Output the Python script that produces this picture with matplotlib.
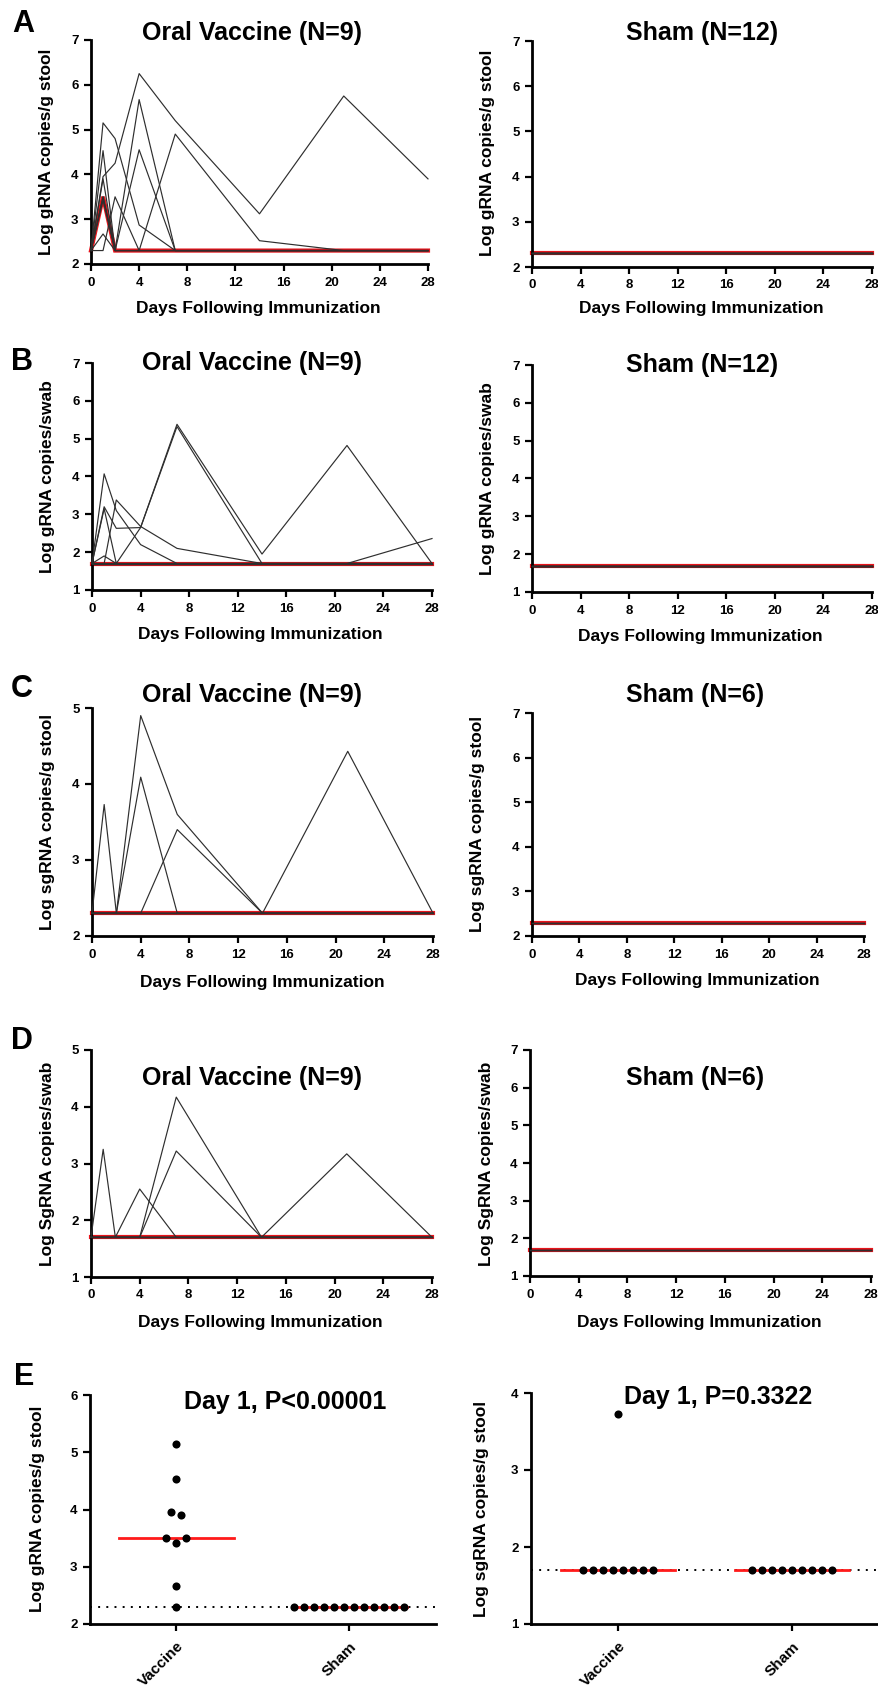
import matplotlib
matplotlib.use('Agg')
import matplotlib.pyplot as plt
import numpy as np

plt.rcParams['font.family'] = ['Liberation Sans', 'DejaVu Sans']
plt.rcParams['font.weight'] = 'bold'

W, H = 879, 1687

# ---------------- data ----------------
days = [0, 1, 2, 4, 7, 14, 21, 28]
day_ticks = [0, 4, 8, 12, 16, 20, 24, 28]

# Panel A: gRNA, stool (LOD 2.3)
A_vaccine = [
    [2.3, 5.15, 4.80, 2.87, 2.30, 2.30, 2.30, 2.30],
    [2.3, 3.95, 4.25, 6.25, 5.20, 3.12, 5.75, 3.90],
    [2.3, 4.53, 2.30, 5.67, 2.30, 2.30, 2.30, 2.30],
    [2.3, 3.90, 2.30, 4.55, 2.30, 2.30, 2.30, 2.30],
    [2.3, 3.50, 2.30, 2.30, 4.90, 2.52, 2.30, 2.30],
    [2.3, 3.50, 2.30, 2.30, 2.30, 2.30, 2.30, 2.30],
    [2.3, 3.42, 2.30, 2.30, 2.30, 2.30, 2.30, 2.30],
    [2.3, 2.67, 2.30, 2.30, 2.30, 2.30, 2.30, 2.30],
    [2.3, 2.30, 3.50, 2.30, 2.30, 2.30, 2.30, 2.30],
]
A_sham = [[2.3] * 8] * 12

# Panel B: gRNA, swab (LOD 1.7)
B_vaccine = [
    [1.7, 4.07, 3.10, 2.20, 1.70, 1.70, 1.70, 1.70],
    [1.7, 3.20, 2.63, 2.65, 5.32, 1.70, 1.70, 1.70],
    [1.7, 3.15, 1.70, 2.65, 5.38, 1.95, 4.82, 1.70],
    [1.7, 1.70, 3.38, 2.68, 2.10, 1.70, 1.70, 1.70],
    [1.7, 1.90, 1.70, 1.70, 1.70, 1.70, 1.70, 1.70],
    [1.7, 1.70, 1.70, 1.70, 1.70, 1.70, 1.70, 2.36],
    [1.7, 1.70, 1.70, 1.70, 1.70, 1.70, 1.70, 1.70],
    [1.7, 1.70, 1.70, 1.70, 1.70, 1.70, 1.70, 1.70],
    [1.7, 1.70, 1.70, 1.70, 1.70, 1.70, 1.70, 1.70],
]
B_sham = [[1.7] * 8] * 12

# Panel C: sgRNA, stool (LOD 2.3)
C_vaccine = [
    [2.3, 3.73, 2.30, 2.30, 2.30, 2.30, 2.30, 2.30],
    [2.3, 2.30, 2.30, 4.90, 3.60, 2.30, 2.30, 2.30],
    [2.3, 2.30, 2.30, 4.09, 2.30, 2.30, 2.30, 2.30],
    [2.3, 2.30, 2.30, 2.30, 3.40, 2.30, 4.43, 2.30],
    [2.3, 2.30, 2.30, 2.30, 2.30, 2.30, 2.30, 2.30],
    [2.3, 2.30, 2.30, 2.30, 2.30, 2.30, 2.30, 2.30],
    [2.3, 2.30, 2.30, 2.30, 2.30, 2.30, 2.30, 2.30],
    [2.3, 2.30, 2.30, 2.30, 2.30, 2.30, 2.30, 2.30],
    [2.3, 2.30, 2.30, 2.30, 2.30, 2.30, 2.30, 2.30],
]
C_sham = [[2.3] * 8] * 6

# Panel D: SgRNA, swab (LOD 1.7)
D_vaccine = [
    [1.7, 3.25, 1.70, 1.70, 1.70, 1.70, 1.70, 1.70],
    [1.7, 1.70, 1.70, 2.55, 1.70, 1.70, 1.70, 1.70],
    [1.7, 1.70, 1.70, 1.70, 4.17, 1.70, 1.70, 1.70],
    [1.7, 1.70, 1.70, 1.70, 3.22, 1.70, 3.17, 1.70],
    [1.7, 1.70, 1.70, 1.70, 1.70, 1.70, 1.70, 1.70],
    [1.7, 1.70, 1.70, 1.70, 1.70, 1.70, 1.70, 1.70],
    [1.7, 1.70, 1.70, 1.70, 1.70, 1.70, 1.70, 1.70],
    [1.7, 1.70, 1.70, 1.70, 1.70, 1.70, 1.70, 1.70],
    [1.7, 1.70, 1.70, 1.70, 1.70, 1.70, 1.70, 1.70],
]
D_sham = [[1.7] * 8] * 6

# Panel E: Day 1 comparisons
E_groups = ['Vaccine', 'Sham']
E1_vaccine = [5.15, 4.53, 3.95, 3.90, 3.50, 3.50, 3.42, 2.67, 2.30]
E1_sham = [2.3] * 12
E1_lod = 2.3
E2_vaccine = [3.73, 1.7, 1.7, 1.7, 1.7, 1.7, 1.7, 1.7, 1.7]
E2_sham = [1.7] * 9
E2_lod = 1.7

# ---------------- helpers ----------------
fig = plt.figure(figsize=(W / 100, H / 100), dpi=100)
fig.patch.set_facecolor('white')


def ax_at(x0, x1, y0, y1):
    return fig.add_axes([x0 / W, 1 - y1 / H, (x1 - x0) / W, (y1 - y0) / H])


def ftext(x, y, s, **kw):
    fig.text(x / W, 1 - y / H, s, ha='center', va='center', fontweight='bold', **kw)


def style_axes(ax):
    for sp in ['top', 'right']:
        ax.spines[sp].set_visible(False)
    for sp in ['left', 'bottom']:
        ax.spines[sp].set_linewidth(2.0)
    ax.tick_params(axis='both', direction='out', length=5, width=1.6,
                   labelsize=9.5, pad=4)
    for lab in ax.get_xticklabels() + ax.get_yticklabels():
        lab.set_fontweight('bold')
    ax.patch.set_alpha(0)


def time_panel(box, series, ylim, ylabel, title, title_xy, ylabel_xy, xlabel_xy):
    ax = ax_at(*box)
    arr = np.array(series, dtype=float)
    med = np.median(arr, axis=0)
    ax.plot(days, med, color='#e8141b', lw=3.0, zorder=2, clip_on=False,
            solid_joinstyle='miter')
    for s in series:
        ax.plot(days, s, color='#2e2e2e', lw=0.85, zorder=3, clip_on=False)
    ax.set_xlim(0, 28)
    ax.set_ylim(*ylim)
    ax.set_xticks(day_ticks)
    ax.set_yticks(np.arange(ylim[0], ylim[1] + 1))
    style_axes(ax)
    ftext(*title_xy, title, fontsize=18)
    ftext(*ylabel_xy, ylabel, fontsize=12.5, rotation=90)
    ftext(*xlabel_xy, 'Days Following Immunization', fontsize=12.5)
    return ax


def swarm_offsets(vals, ax, ylim, d=10.0):
    bb = ax.get_position()
    hpx = bb.height * H
    ypx = [(v - ylim[0]) / (ylim[1] - ylim[0]) * hpx for v in vals]
    order = np.argsort(ypx, kind='stable')
    placed = {}
    cands = [0.0]
    for k in range(1, 20):
        cands += [-k * d, k * d]
    for i in order:
        for c in cands:
            ok = all(np.hypot(c - placed[j], ypx[i] - ypx[j]) >= 0.95 * d for j in placed)
            if ok:
                placed[i] = c
                break
    # center clusters
    srt = sorted(placed.keys(), key=lambda i: ypx[i])
    clusters, cur = [], [srt[0]]
    for i in srt[1:]:
        if ypx[i] - ypx[cur[-1]] < d:
            cur.append(i)
        else:
            clusters.append(cur)
            cur = [i]
    clusters.append(cur)
    off = np.zeros(len(vals))
    for cl in clusters:
        m = np.mean([placed[i] for i in cl])
        for i in cl:
            off[i] = placed[i] - m
    return off


def dot_panel(box, groups_vals, ylim, lod, ylabel, title, title_xy, ylabel_xy):
    ax = ax_at(*box)
    ax.set_xlim(-0.5, 1.5)
    ax.set_ylim(*ylim)
    bb = ax.get_position()
    px_per_unit = bb.width * W / 2.0
    ax.plot([-0.5, 1.5], [lod, lod], color='black', lw=1.4, ls=(0, (1, 3.2)),
            zorder=1, clip_on=False)
    for gi, vals in enumerate(groups_vals):
        off = swarm_offsets(vals, ax, ylim)
        xs = gi + off / px_per_unit
        med = np.median(vals)
        ax.plot([gi - 0.33, gi + 0.33], [med, med], color='#ff1a1a', lw=2.0, zorder=2)
        ax.scatter(xs, vals, s=34, color='black', zorder=3, clip_on=False, linewidths=0)
    ax.set_xticks(range(len(E_groups)))
    ax.set_xticklabels(E_groups, rotation=45, ha='right', rotation_mode='anchor',
                       fontsize=11, fontweight='bold')
    ax.set_yticks(np.arange(ylim[0], ylim[1] + 1))
    style_axes(ax)
    ax.tick_params(axis='x', labelsize=11, pad=6)
    ftext(*title_xy, title, fontsize=18)
    ftext(*ylabel_xy, ylabel, fontsize=12.5, rotation=90)
    return ax


# ---------------- panels ----------------
time_panel((91, 428, 40, 264), A_vaccine, (2, 7), 'Log gRNA copies/g stool',
           'Oral Vaccine (N=9)', (252, 33), (47, 152), (258, 309))
time_panel((532, 872, 41, 267), A_sham, (2, 7), 'Log gRNA copies/g stool',
           'Sham (N=12)', (702, 33), (488, 153), (701, 308))

time_panel((92, 432, 363, 590), B_vaccine, (1, 7), 'Log gRNA copies/swab',
           'Oral Vaccine (N=9)', (252, 363), (48, 477), (260, 635))
time_panel((532, 872, 365, 592), B_sham, (1, 7), 'Log gRNA copies/swab',
           'Sham (N=12)', (702, 365), (488, 479), (700, 636))

time_panel((92, 433, 708, 936), C_vaccine, (2, 5), 'Log sgRNA copies/g stool',
           'Oral Vaccine (N=9)', (252, 695), (48, 822), (262, 982))
time_panel((532, 864, 713, 936), C_sham, (2, 7), 'Log sgRNA copies/g stool',
           'Sham (N=6)', (695, 695), (478, 824), (697, 980))

time_panel((91, 432, 1050, 1277), D_vaccine, (1, 5), 'Log SgRNA copies/swab',
           'Oral Vaccine (N=9)', (252, 1078), (48, 1164), (260, 1323))
time_panel((530, 871, 1050, 1276), D_sham, (1, 7), 'Log SgRNA copies/swab',
           'Sham (N=6)', (695, 1078), (487, 1164), (699, 1322))

dot_panel((90, 436, 1395, 1624), [E1_vaccine, E1_sham], (2, 6), E1_lod,
          'Log gRNA copies/g stool', 'Day 1, P<0.00001', (285, 1402), (38, 1509))
dot_panel((531, 879, 1393, 1624), [E2_vaccine, E2_sham], (1, 4), E2_lod,
          'Log sgRNA copies/g stool', 'Day 1, P=0.3322', (718, 1397), (482, 1509))

# panel letters
for letter, (x, y) in zip('ABCDE', [(23, 24), (22, 362), (22, 689), (22, 1041), (24, 1377)]):
    ftext(x, y, letter, fontsize=22)

fig.savefig('out.png', dpi=100, facecolor='white')
